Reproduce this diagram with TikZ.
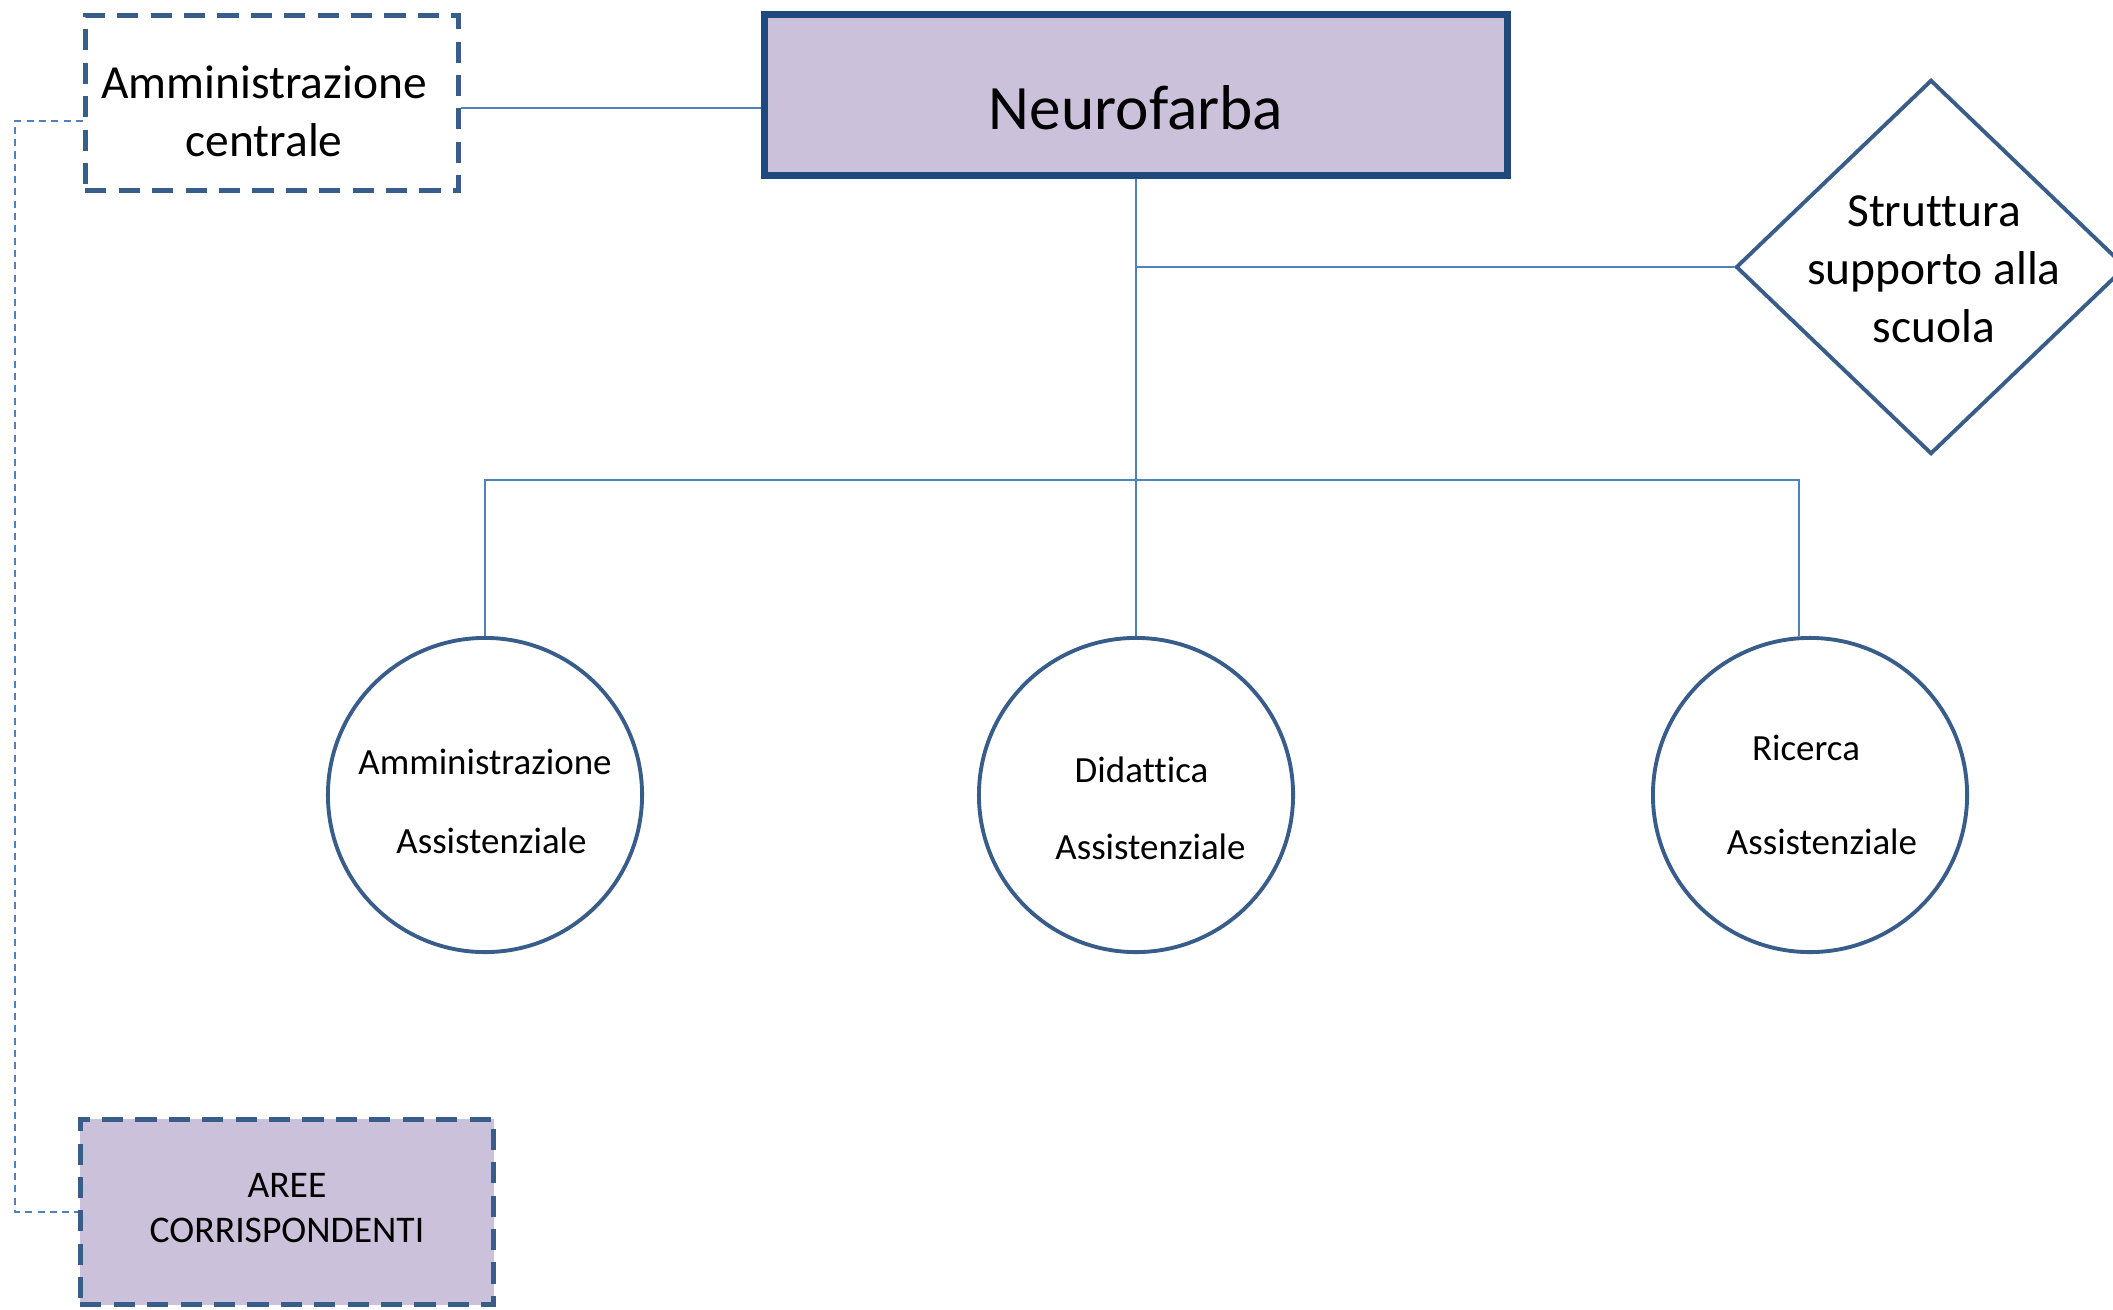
\documentclass[tikz,border=0pt]{standalone}
\usepackage{fontspec}
\setmainfont{Carlito}[Ligatures={NoCommon,NoContextual,NoRequired}]
\usetikzlibrary{shapes.geometric,calc}
\definecolor{linkblue}{HTML}{4F81BD}
\definecolor{edgeblue}{HTML}{385D8A}
\definecolor{deepblue}{HTML}{1F497D}
\definecolor{lilac}{HTML}{CCC1DA}
\tikzset{link/.style={draw=linkblue, line width=0.5pt}}
\tikzset{dotlink/.style={draw=linkblue, line width=0.5pt, dash pattern=on 2pt off 1.5pt}}
\tikzset{dbox/.style={rectangle, draw=edgeblue, line width=1.4pt, dash pattern=on 6pt off 3.5pt, align=center, inner sep=0pt}}
\tikzset{unit/.style={circle, draw=edgeblue, line width=1.1pt, fill=white, minimum size=3.14cm, inner sep=0pt, align=center, font=\fontsize{10.5}{12.6}\selectfont}}

\begin{document}
\begin{tikzpicture}[x=0.01cm, y=-0.01cm]
\useasboundingbox (0,0) rectangle (2113,1309);
\node (neuro) at (1136,95) [rectangle, draw=deepblue, line width=2pt, fill=lilac, minimum width=7.43cm, minimum height=1.61cm, inner sep=0pt, text height=19.4pt, text depth=0pt, font=\fontsize{18}{21.6}\selectfont] {Neurofarba};
\node (admc) at (272,103) [dbox, minimum width=3.73cm, minimum height=1.75cm, font=\fontsize{13.5}{16.5}\selectfont] {\rule{0pt}{13.8pt}Amministrazione\hspace*{0.16cm}\\centrale\hspace*{0.16cm}};
\node (diam) at (1931,267) [diamond, draw=edgeblue, line width=1.1pt, minimum width=3.9cm, minimum height=3.74cm, inner sep=-0.2cm, align=center, font=\fontsize{13.5}{16.5}\selectfont] {\rule{0pt}{10pt}\hspace*{0.06cm}Struttura\\\hspace*{0.06cm}supporto alla\\\hspace*{0.06cm}scuola};
\node (c1) at (485,795) [unit] {\rule{0pt}{11pt}Amministrazione\\[10pt]\hspace*{0.13cm}Assistenziale};
\node (c2) at (1136,795) [unit] {\rule{0pt}{14.8pt}\hspace*{0.11cm}Didattica\\[9.3pt]\hspace*{0.29cm}Assistenziale};
\node (c3) at (1810,795) [unit] {Ricerca\hspace*{0.08cm}\\[14pt]\hspace*{0.24cm}Assistenziale};
\node (aree) at (287,1212) [dbox, fill=lilac, minimum width=4.13cm, minimum height=1.85cm, font=\fontsize{10.7}{12.7}\selectfont] {AREE\\CORRISPONDENTI\rule[-2.3pt]{0pt}{2.3pt}};
\coordinate (bus) at (1136,480);
\coordinate (c3top) at ([xshift=-0.11cm]c3.north);
\draw[link] ([yshift=-0.05cm]admc.east) -- ([yshift=-0.05cm]admc.east -| neuro.west);
\draw[link] (neuro.south) -- (c2.north);
\draw[link] (diam.west) -- (diam.west -| neuro.south);
\draw[link] (c1.north) |- (bus) -| (c3top);
\draw[dotlink] ([yshift=-0.18cm]admc.west) -- ++(-68,0) |- (aree.west);
\end{tikzpicture}
\end{document}
